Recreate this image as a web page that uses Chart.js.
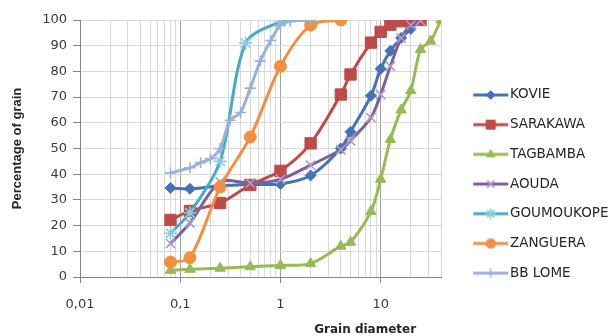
<!DOCTYPE html>
<html>
<head>
<meta charset="utf-8">
<script src="https://cdn.jsdelivr.net/npm/chart.js@4.4.0/dist/chart.umd.min.js"></script>
<style>
html,body{margin:0;padding:0;background:#ffffff;}
#wrap{width:615px;height:336px;position:relative;}
</style>
</head>
<body>
<div id="wrap"><canvas id="c" width="615" height="336"></canvas></div>
<script>
// ---- data ----
const seriesNames = ['KOVIE','SARAKAWA','TAGBAMBA','AOUDA','GOUMOUKOPE','ZANGUERA','BB LOME'];

const kovieX = [0.08, 0.125, 0.25, 0.5, 1, 2, 4, 5, 8, 10, 12.5, 16, 20];
const kovieY = [34.6, 34.3, 35.5, 36, 36.2, 39.5, 50, 56.5, 70.5, 81, 88, 93, 96.5];

const sarakawaX = [0.08, 0.125, 0.25, 0.5, 1, 2, 4, 5, 8, 10, 12.5, 16, 20, 25];
const sarakawaY = [22.2, 25.7, 28.8, 35.8, 41.3, 52, 71, 78.8, 91.2, 95.4, 98.2, 99.5, 100, 100];

const tagbambaX = [0.08, 0.125, 0.25, 0.5, 1, 2, 4, 5, 8, 10, 12.5, 16, 20, 25, 31.5, 40];
const tagbambaY = [2.6, 3, 3.4, 4, 4.5, 5.2, 12, 13.5, 25.5, 38, 53.5, 65, 72.5, 88.5, 91.8, 100];

const aoudaX = [0.08, 0.125, 0.25, 0.5, 1, 2, 4, 5, 8, 10, 12.5, 16, 20, 25];
const aoudaY = [13, 21, 37, 36.5, 38, 43.5, 49.5, 53, 62, 71, 82, 93, 98, 99.7];

const goumoukopeX = [0.08, 0.125, 0.25, 0.45, 1, 2];
const goumoukopeY = [17, 25, 45, 91, 99.2, 100];

const zangueraX = [0.08, 0.125, 0.25, 0.5, 1, 2, 4];
const zangueraY = [5.8, 7.5, 35, 54.5, 82, 98, 100];

const bblomeX = [0.08, 0.125, 0.16, 0.2, 0.25, 0.315, 0.4, 0.5, 0.63, 0.8, 1, 1.25, 2];
const bblomeY = [40.5, 42.5, 44.5, 46, 50, 61, 64, 73.5, 84, 92, 98, 99.5, 100];

const xMin = 0.01, xMax = 40;
const majorTickValues = [0.01, 0.1, 1, 10];
const majorTickLabels = ['0,01', '0,1', '1', '10'];
const yMin = 0, yMax = 100, yStep = 10;
const xAxisTitle = 'Grain diameter';
const yAxisTitle = 'Percentage of grain';

// ---- styles ----
const colors = ['#4473B9', '#BE4B48', '#98B954', '#7D60A0', '#46AAC5', '#F38F3E', '#9CB0DC'];
const markerColors = ['#4473B9', '#BE4B48', '#98B954', '#AE9CC8', '#8ACCDF', '#F38F3E', '#9CB0DC'];
const markerStyles = ['rectRot', 'rect', 'triangle', 'crossRot', 'star', 'circle', 'cross'];
const markerRadius = [5.5, 8, 6, 6.5, 6.5, 6, 5.5];
const markerBorder = [1, 1, 1, 1.6, 1.6, 1, 1.6];

const xs = [kovieX, sarakawaX, tagbambaX, aoudaX, goumoukopeX, zangueraX, bblomeX];
const ys = [kovieY, sarakawaY, tagbambaY, aoudaY, goumoukopeY, zangueraY, bblomeY];

const datasets = seriesNames.map((name, i) => ({
  label: name,
  data: xs[i].map((x, j) => ({x: x, y: ys[i][j]})),
  borderColor: colors[i],
  backgroundColor: colors[i],
  borderWidth: 3,
  pointStyle: markerStyles[i],
  pointRadius: markerRadius[i],
  pointBackgroundColor: markerColors[i],
  pointBorderColor: markerColors[i],
  pointBorderWidth: markerBorder[i],
  tension: 0.3,
  fill: false,
  order: seriesNames.length - i
}));

function isMajor(v) {
  return majorTickValues.some(m => Math.abs(m - v) < 1e-9);
}

function legendGlyph(i) {
  const c = document.createElement('canvas');
  c.width = 60; c.height = 16;
  const g = c.getContext('2d');
  g.strokeStyle = colors[i];
  g.lineWidth = 3;
  g.beginPath(); g.moveTo(23, 8); g.lineTo(58, 8); g.stroke();
  g.fillStyle = markerColors[i];
  g.strokeStyle = markerColors[i];
  g.lineWidth = markerBorder[i];
  Chart.helpers.drawPoint(g, {pointStyle: markerStyles[i], radius: markerRadius[i] * 0.8, borderWidth: markerBorder[i], rotation: 0}, 40.5, 8);
  return c;
}
const glyphs = seriesNames.map((n, i) => legendGlyph(i));

const legendFitPlugin = {
  id: 'legendFit',
  beforeLayout(chart) {
    const lg = chart.legend;
    if (lg && !lg._patchedFit) {
      const orig = lg.fit;
      lg.fit = function () { orig.call(this); this.width = 174; };
      lg._patchedFit = true;
    }
  }
};

const xTitlePlugin = {
  id: 'xTitle',
  afterDraw(chart) {
    const {ctx, chartArea} = chart;
    ctx.save();
    ctx.font = 'bold 12px "DejaVu Sans"';
    ctx.fillStyle = '#262626';
    ctx.textAlign = 'center';
    ctx.textBaseline = 'middle';
    ctx.fillText(xAxisTitle, chartArea.left + 0.79 * (chartArea.right - chartArea.left), 330);
    ctx.restore();
  }
};

new Chart(document.getElementById('c'), {
  type: 'line',
  data: {datasets: datasets},
  options: {
    responsive: false,
    animation: false,
    events: [],
    layout: {padding: {top: 20, left: 0, right: 0, bottom: 0}},
    scales: {
      x: {
        type: 'logarithmic',
        min: xMin,
        max: xMax,
        afterBuildTicks(scale) {
          const t = [];
          majorTickValues.forEach(d => {
            for (let m = 1; m <= 9; m++) {
              const v = Number((m * d).toPrecision(4));
              if (v <= xMax + 1e-9) t.push({value: v, major: isMajor(v)});
            }
          });
          scale.ticks = t;
        },
        afterFit(scale) { scale.height = 59; },
        ticks: {
          autoSkip: false,
          maxRotation: 0,
          minRotation: 0,
          padding: 14,
          color: '#3b3b3b',
          font: {family: 'DejaVu Sans', size: 13},
          callback(value) {
            const k = majorTickValues.findIndex(m => Math.abs(m - value) < 1e-9);
            return k >= 0 ? majorTickLabels[k] : '';
          }
        },
        grid: {
          color: (ctx) => (ctx.tick && isMajor(ctx.tick.value)) ? '#a3a3a3' : '#d9d9d9',
          tickColor: (ctx) => (ctx.tick && isMajor(ctx.tick.value)) ? '#868686' : 'rgba(0,0,0,0)',
          tickLength: 6,
          lineWidth: 1
        },
        border: {color: '#868686', width: 1},
        title: {display: false}
      },
      y: {
        type: 'linear',
        min: yMin,
        max: yMax,
        afterFit(scale) { scale.width = 80; },
        ticks: {
          stepSize: yStep,
          padding: 6,
          color: '#3b3b3b',
          font: {family: 'DejaVu Sans', size: 13}
        },
        grid: {
          color: '#d9d9d9',
          tickColor: '#868686',
          tickLength: 7,
          lineWidth: 1
        },
        border: {color: '#868686', width: 1},
        title: {
          display: true,
          text: yAxisTitle,
          color: '#262626',
          font: {family: 'Liberation Sans', weight: 'bold', size: 13},
          padding: {top: 10, bottom: 0}
        }
      }
    },
    plugins: {
      tooltip: {enabled: false},
      legend: {
        display: true,
        position: 'right',
        align: 'start',
        title: {display: true, text: '', font: {size: 10, lineHeight: 1}, padding: {top: 42, bottom: 0}},
        labels: {
          usePointStyle: true,
          pointStyleWidth: 46,
          padding: 16.2,
          color: '#262626',
          font: {family: 'DejaVu Sans', size: 13.5},
          generateLabels(chart) {
            const items = Chart.defaults.plugins.legend.labels.generateLabels(chart);
            items.forEach(it => { it.pointStyle = glyphs[it.datasetIndex]; it.fontColor = '#262626'; });
            return items;
          },
          sort: (a, b) => a.datasetIndex - b.datasetIndex
        }
      }
    }
  },
  plugins: [legendFitPlugin, xTitlePlugin]
});
</script>
</body>
</html>
